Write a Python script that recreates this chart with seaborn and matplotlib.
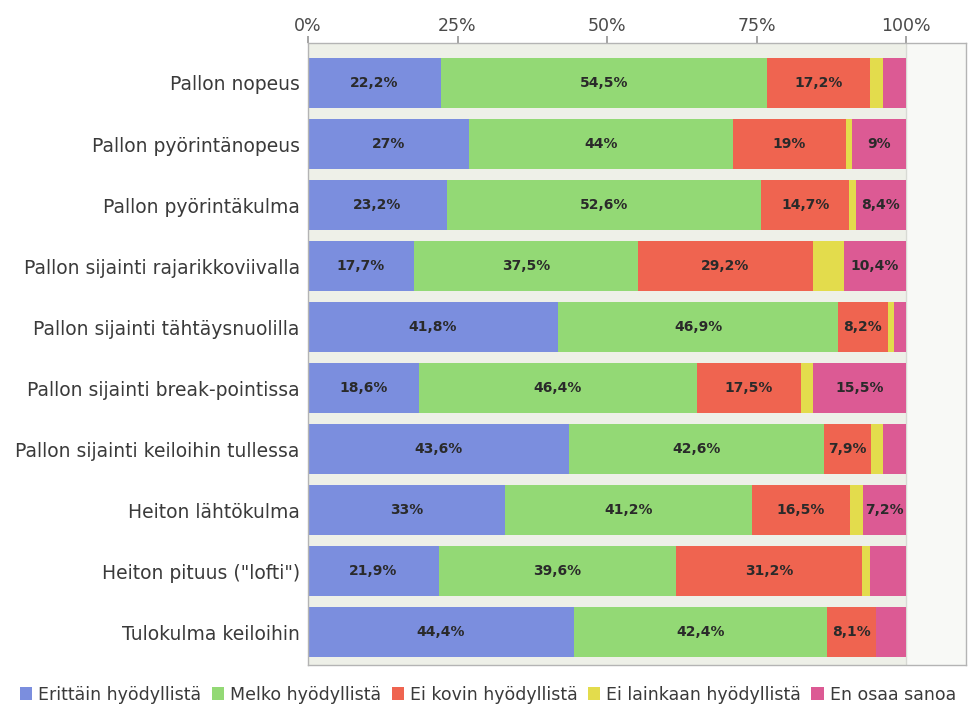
import matplotlib
matplotlib.use("Agg")
from matplotlib import pyplot as plt
from matplotlib.patches import Patch
import numpy as np
import pandas as pd
import seaborn as sns

# Data (percent)
questions = ["Pallon nopeus", "Pallon pyörintänopeus", "Pallon pyörintäkulma",
             "Pallon sijainti rajarikkoviivalla", "Pallon sijainti tähtäysnuolilla",
             "Pallon sijainti break-pointissa", "Pallon sijainti keiloihin tullessa",
             "Heiton lähtökulma", "Heiton pituus (\"lofti\")", "Tulokulma keiloihin"]
erittain = [22.2, 27, 23.2, 17.7, 41.8, 18.6, 43.6, 33, 21.9, 44.4]
melko = [54.5, 44, 52.6, 37.5, 46.9, 46.4, 42.6, 41.2, 39.6, 42.4]
ei_kovin = [17.2, 19, 14.7, 29.2, 8.2, 17.5, 7.9, 16.5, 31.2, 8.1]
ei_lainkaan = [2.2, 1.0, 1.1, 5.2, 1.1, 2.0, 2.1, 2.1, 1.2, 0.0]
en_osaa = [3.9, 9, 8.4, 10.4, 2.0, 15.5, 3.8, 7.2, 6.1, 5.1]
series_names = ["Erittäin hyödyllistä", "Melko hyödyllistä", "Ei kovin hyödyllistä",
                "Ei lainkaan hyödyllistä", "En osaa sanoa"]
colors = ["#7b8ede", "#93d975", "#ef6450", "#e3dc4c", "#dc5a94"]
tick_labels = ["0%", "25%", "50%", "75%", "100%"]

sns.set_theme(style="white")
plt.rcParams['font.family'] = ['DejaVu Sans']

df = pd.DataFrame({"kysymys": questions})
series = [erittain, melko, ei_kovin, ei_lainkaan, en_osaa]
cum = np.cumsum(np.array(series), axis=0)

fig = plt.figure(figsize=(9.76, 7.16), dpi=100)
ax = fig.add_axes([0.3156, 0.071, 0.674, 0.869])
ax.set_facecolor("#eef0e8")
ax.axvspan(100, 110, color="#f8f9f6", zorder=0)
ax.axvline(100, color="#d8dad4", lw=1, zorder=0.5)

# stacked bars: draw cumulative totals from the last series down
for k in range(len(series) - 1, -1, -1):
    df["arvo"] = cum[k]
    sns.barplot(data=df, x="arvo", y="kysymys", orient="h", color=colors[k],
                saturation=1, width=0.82, ax=ax, linewidth=0)

def fmt(v):
    if float(v).is_integer():
        return "%d%%" % v
    return ("%.1f%%" % v).replace(".", ",")

for i in range(len(questions)):
    left = 0
    for k in range(len(series)):
        v = series[k][i]
        if v >= 7:
            ax.text(left + v / 2, i, fmt(v), ha="center", va="center",
                    fontsize=10, fontweight="bold", color="#2a2a2a")
        left += v

ax.set_xlim(0, 110)
ax.set_ylim(9.54, -0.656)
ax.set_xticks([0, 25, 50, 75, 100])
ax.set_xticklabels(tick_labels)
ax.xaxis.tick_top()
ax.tick_params(axis="x", direction="out", length=5, color="#999999",
               labelsize=12.5, labelcolor="#4a4a4a", pad=1)
ax.tick_params(axis="y", length=0, labelsize=13.5, labelcolor="#3a3a3a", pad=6)
ax.set_xlabel("")
ax.set_ylabel("")
for s in ax.spines.values():
    s.set_color("#b4b4b4")
    s.set_linewidth(1)

handles = [Patch(facecolor=c, edgecolor="none") for c in colors]
fig.legend(handles, series_names, loc="center", bbox_to_anchor=(0.5, 0.03),
           ncol=5, frameon=False, fontsize=12.5, handlelength=0.7, handleheight=0.7,
           handletextpad=0.35, columnspacing=0.6, labelcolor="#3a3a3a")

fig.savefig("out.png", dpi=100)
